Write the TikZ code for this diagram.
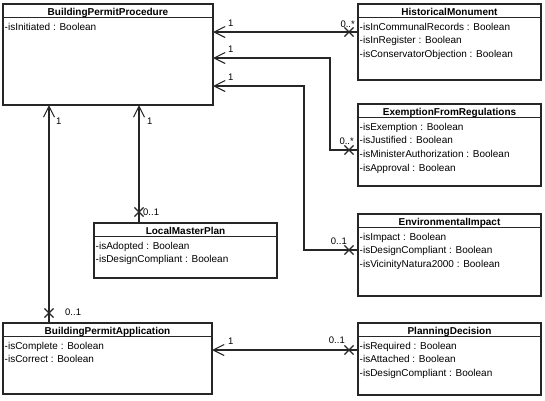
\documentclass[tikz,border=0pt]{standalone}
\usepackage{fontspec}
\setmainfont{Liberation Sans}
\usetikzlibrary{arrows.meta,calc,shapes.misc}
\tikzset{
  clsbox/.style={draw=black!85, line width=1.2pt, fill=white, inner sep=0pt, outer sep=0pt, anchor=north west},
  hdrline/.style={draw=black!85, line width=1pt},
  hdr/.style={font=\fontsize{10}{12}\selectfont\bfseries, inner sep=0pt, anchor=base},
  attr/.style={font=\fontsize{10}{12}\selectfont, inner sep=0pt, anchor=base west},
  assoc/.style={draw=black!85, line width=1.2pt, -{Straight Barb[length=11pt,width=11pt,line width=1.1pt]}},
  xmark/.style={draw=black!85, cross out, line width=1.1pt, minimum size=8pt, inner sep=0pt},
  mult/.style={font=\fontsize{9.5}{11}\selectfont, inner sep=0pt},
}
\newcommand{\umlclassbox}[7]{%
  \node[clsbox, minimum width=#4pt, minimum height=#5pt] (#1) at (#2,#3) {};
  \draw[hdrline] ($(#1.north west)+(0,13)$) -- ($(#1.north east)+(0,13)$);
  \node[hdr] (#1-t) at ($(#1.north)+(0,11)$) {#6};
  \foreach \a [count=\i] in {#7} {\node[attr] (#1-a\i) at ($(#1.north west)+(1.5,{12.3+13.7*\i})$) {\a};}
}
\begin{document}
\begin{tikzpicture}[x=1pt,y=-1pt]
\useasboundingbox[fill=white] (0,0) rectangle (545,400);

\umlclassbox{bpp}{3}{4}{210}{101}{BuildingPermitProcedure}{-isInitiated : Boolean}
\umlclassbox{hm}{358}{4}{183}{76}{HistoricalMonument}{-isInCommunalRecords : Boolean,-isInRegister : Boolean,-isConservatorObjection : Boolean}
\umlclassbox{ex}{358}{104}{183}{82}{ExemptionFromRegulations}{-isExemption : Boolean,-isJustified : Boolean,-isMinisterAuthorization : Boolean,-isApproval : Boolean}
\umlclassbox{ei}{358}{214}{183}{82}{EnvironmentalImpact}{-isImpact : Boolean,-isDesignCompliant : Boolean,-isVicinityNatura2000 : Boolean}
\umlclassbox{lmp}{94}{223}{183}{55}{LocalMasterPlan}{-isAdopted : Boolean,-isDesignCompliant : Boolean}
\umlclassbox{bpa}{3}{323}{209}{71}{BuildingPermitApplication}{-isComplete : Boolean,-isCorrect : Boolean}
\umlclassbox{pd}{358}{323}{183}{72}{PlanningDecision}{-isRequired : Boolean,-isAttached : Boolean,-isDesignCompliant : Boolean}

% HistoricalMonument -> BuildingPermitProcedure
\coordinate (hmW) at ($(hm.north west)+(0,28)$);
\draw[assoc] (hmW) -- (hmW -| bpp.east);
\node[xmark] (x1) at ($(hmW)+(-9,0)$) {};
\node[mult, anchor=base east] (m1a) at ($(hmW)+(-3,-5)$) {0..*};
\node[mult, anchor=base west] (m1b) at ($(hmW -| bpp.east)+(15,-6)$) {1};

% ExemptionFromRegulations -> BuildingPermitProcedure
\coordinate (exW) at ($(ex.north west)+(0,46)$);
\coordinate (c2) at ($(bpp.north east)+(117,54)$);
\draw[assoc] (exW) -| (c2) -- (c2 -| bpp.east);
\node[xmark] (x2) at ($(exW)+(-9,0)$) {};
\node[mult, anchor=base east] (m2a) at ($(exW)+(-4,-6)$) {0..*};
\node[mult, anchor=base west] (m2b) at ($(c2 -| bpp.east)+(15,-6)$) {1};

% EnvironmentalImpact -> BuildingPermitProcedure
\coordinate (eiW) at ($(ei.north west)+(0,36)$);
\coordinate (c3) at ($(bpp.north east)+(91,82)$);
\draw[assoc] (eiW) -| (c3) -- (c3 -| bpp.east);
\node[xmark] (x3) at ($(eiW)+(-9,0)$) {};
\node[mult, anchor=base east] (m3a) at ($(eiW)+(-11,-6)$) {0..1};
\node[mult, anchor=base west] (m3b) at ($(c3 -| bpp.east)+(15,-6)$) {1};

% LocalMasterPlan -> BuildingPermitProcedure
\coordinate (lmpN) at ($(lmp.north west)+(45,0)$);
\draw[assoc] (lmpN) -- (lmpN |- bpp.south);
\node[xmark] (x4) at ($(lmpN)+(0,-11)$) {};
\node[mult, anchor=west] (m4a) at ($(lmpN)+(4,-11)$) {0..1};
\node[mult, anchor=west] (m4b) at ($(lmpN |- bpp.south)+(8,16)$) {1};

% BuildingPermitApplication -> BuildingPermitProcedure
\coordinate (bpaN) at ($(bpa.north west)+(46,0)$);
\draw[assoc] (bpaN) -- (bpaN |- bpp.south);
\node[xmark] (x5) at ($(bpaN)+(0,-10)$) {};
\node[mult, anchor=west] (m5a) at ($(bpaN)+(16,-11)$) {0..1};
\node[mult, anchor=west] (m5b) at ($(bpaN |- bpp.south)+(7,16)$) {1};

% PlanningDecision -> BuildingPermitApplication
\coordinate (pdW) at ($(pd.north west)+(0,27)$);
\draw[assoc] (pdW) -- (pdW -| bpa.east);
\node[xmark] (x6) at ($(pdW)+(-9,0)$) {};
\node[mult, anchor=base east] (m6a) at ($(pdW)+(-13,-7)$) {0..1};
\node[mult, anchor=base west] (m6b) at ($(pdW -| bpa.east)+(16,-6)$) {1};
\end{tikzpicture}
\end{document}
